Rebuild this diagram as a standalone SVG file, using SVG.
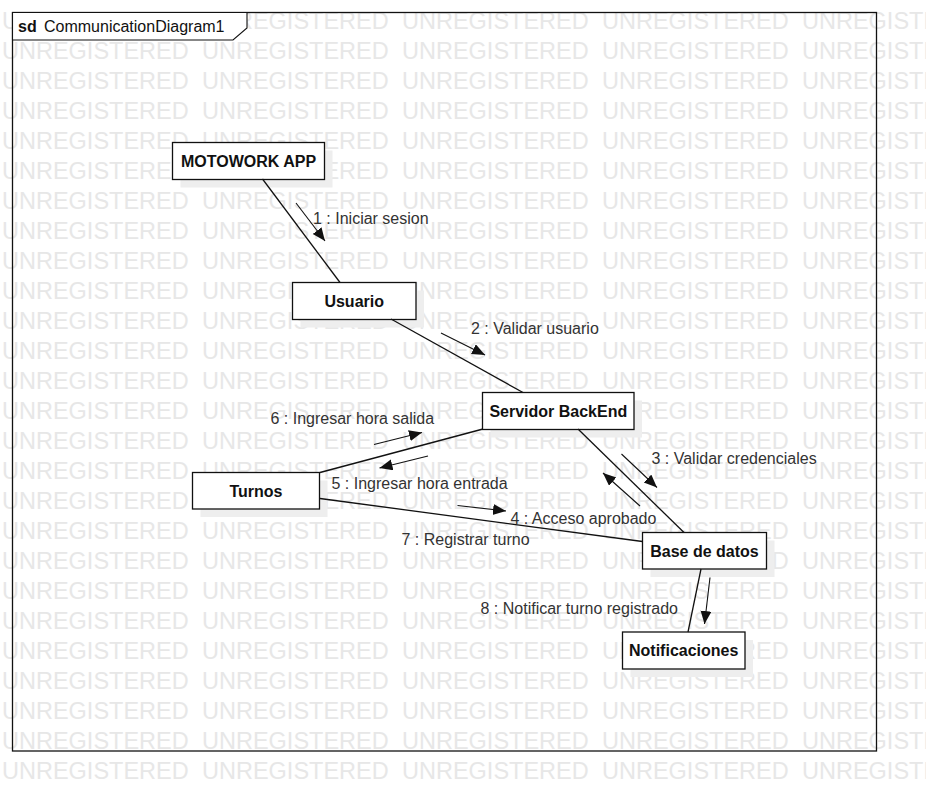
<svg xmlns="http://www.w3.org/2000/svg" xmlns:xlink="http://www.w3.org/1999/xlink" width="926" height="801" viewBox="0 0 926 801">
  <style>
    .wm { font-family: "Liberation Sans", Arial, sans-serif; font-size: 23.5px; fill: #e7e7e7; }
    .box { fill: #ffffff; stroke: #111111; stroke-width: 1.3; }
    .shadow { fill: #eeeeee; stroke: none; }
    .name { font-family: "Liberation Sans", Arial, sans-serif; font-size: 16px; font-weight: bold; fill: #111111; text-anchor: middle; }
    .msg { font-family: "Liberation Sans", Arial, sans-serif; font-size: 16px; fill: #333333; }
    .link { stroke: #111111; stroke-width: 1.3; fill: none; }
    .arrow { stroke: #111111; stroke-width: 1.1; fill: none; marker-end: url(#head); }
    .frame { fill: none; stroke: #111111; stroke-width: 1.3; }
    .tab { fill: #ffffff; stroke: #111111; stroke-width: 1.1; }
  </style>
  <defs>
    <marker id="head" markerUnits="userSpaceOnUse" markerWidth="14" markerHeight="12" refX="13" refY="5.5" orient="auto">
      <path d="M0,0 L13,5.5 L0,11 z" fill="#111111"/>
    </marker>
    <g id="wmrow">
      <text class="wm" y="0">
        <tspan x="2">UNREGISTERED</tspan>
        <tspan x="202">UNREGISTERED</tspan>
        <tspan x="402">UNREGISTERED</tspan>
        <tspan x="602">UNREGISTERED</tspan>
        <tspan x="802">UNREGISTERED</tspan>
      </text>
    </g>
  </defs>

  <rect x="0" y="0" width="926" height="801" fill="#ffffff"/>

  <!-- background stamp rows -->
  <g id="watermark">
    <use xlink:href="#wmrow" y="29"/>
    <use xlink:href="#wmrow" y="59"/>
    <use xlink:href="#wmrow" y="89"/>
    <use xlink:href="#wmrow" y="119"/>
    <use xlink:href="#wmrow" y="149"/>
    <use xlink:href="#wmrow" y="179"/>
    <use xlink:href="#wmrow" y="209"/>
    <use xlink:href="#wmrow" y="239"/>
    <use xlink:href="#wmrow" y="269"/>
    <use xlink:href="#wmrow" y="299"/>
    <use xlink:href="#wmrow" y="329"/>
    <use xlink:href="#wmrow" y="359"/>
    <use xlink:href="#wmrow" y="389"/>
    <use xlink:href="#wmrow" y="419"/>
    <use xlink:href="#wmrow" y="449"/>
    <use xlink:href="#wmrow" y="479"/>
    <use xlink:href="#wmrow" y="509"/>
    <use xlink:href="#wmrow" y="539"/>
    <use xlink:href="#wmrow" y="569"/>
    <use xlink:href="#wmrow" y="599"/>
    <use xlink:href="#wmrow" y="629"/>
    <use xlink:href="#wmrow" y="659"/>
    <use xlink:href="#wmrow" y="689"/>
    <use xlink:href="#wmrow" y="719"/>
    <use xlink:href="#wmrow" y="749"/>
    <use xlink:href="#wmrow" y="779"/>
  </g>

  <!-- interaction frame -->
  <g id="frame">
    <rect class="frame" x="12.5" y="12.5" width="864" height="738.5"/>
    <polygon class="tab" points="12.5,12.5 247,12.5 247,28 233,40 12.5,40"/>
    <text x="18" y="31.5" font-family="'Liberation Sans', Arial, sans-serif" font-size="16" fill="#111111"><tspan font-weight="bold">sd</tspan><tspan x="44">CommunicationDiagram1</tspan></text>
  </g>

  <!-- lifeline objects -->
  <g id="motowork-app">
    <rect class="shadow" x="180.5" y="150.5" width="152" height="37"/>
    <rect class="box" x="172.5" y="142.5" width="152" height="37"/>
    <text class="name" x="248.5" y="166.7">MOTOWORK APP</text>
  </g>
  <g id="usuario">
    <rect class="shadow" x="300.5" y="290.5" width="123.5" height="37"/>
    <rect class="box" x="292.5" y="282.5" width="123.5" height="37"/>
    <text class="name" x="354.2" y="306.7">Usuario</text>
  </g>
  <g id="servidor-backend">
    <rect class="shadow" x="490.5" y="400.5" width="151.5" height="37"/>
    <rect class="box" x="482.5" y="392.5" width="151.5" height="37"/>
    <text class="name" x="558.3" y="416.7">Servidor BackEnd</text>
  </g>
  <g id="turnos">
    <rect class="shadow" x="200.5" y="480.5" width="127" height="36.5"/>
    <rect class="box" x="192.5" y="472.5" width="127" height="36.5"/>
    <text class="name" x="256" y="496.5">Turnos</text>
  </g>
  <g id="base-de-datos">
    <rect class="shadow" x="650.5" y="540.5" width="124" height="36.5"/>
    <rect class="box" x="642.5" y="532.5" width="124" height="36.5"/>
    <text class="name" x="704.5" y="556.5">Base de datos</text>
  </g>
  <g id="notificaciones">
    <rect class="shadow" x="630.5" y="640" width="122.5" height="37"/>
    <rect class="box" x="622.5" y="632" width="122.5" height="37"/>
    <text class="name" x="683.7" y="656.2">Notificaciones</text>
  </g>

  <!-- links and messages -->
  <g id="connectors">
    <line class="link" x1="262.5" y1="179" x2="340" y2="282.5"/>
    <line class="link" x1="391" y1="319" x2="523" y2="392.5"/>
    <line class="link" x1="578" y1="429" x2="684" y2="532.5"/>
    <line class="link" x1="483" y1="429" x2="320" y2="472.5"/>
    <line class="link" x1="320" y1="498.5" x2="642.5" y2="541.5"/>
    <line class="link" x1="701" y1="569" x2="688" y2="632"/>

    <line class="arrow" x1="296" y1="203" x2="325" y2="241"/>
    <line class="arrow" x1="441" y1="333" x2="485" y2="355"/>
    <line class="arrow" x1="621.5" y1="454" x2="657" y2="487.5"/>
    <line class="arrow" x1="640" y1="506" x2="603" y2="473"/>
    <line class="arrow" x1="428" y1="456" x2="379.5" y2="468"/>
    <line class="arrow" x1="374" y1="444.5" x2="422" y2="432.5"/>
    <line class="arrow" x1="457.5" y1="505.5" x2="506" y2="511"/>
    <line class="arrow" x1="710" y1="577.5" x2="704.5" y2="624"/>

    <text class="msg" x="313" y="224">1 : Iniciar sesion</text>
    <text class="msg" x="471" y="333.5">2 : Validar usuario</text>
    <text class="msg" x="651.5" y="464">3 : Validar credenciales</text>
    <text class="msg" x="510.5" y="524">4 : Acceso aprobado</text>
    <text class="msg" x="331.5" y="488.5">5 : Ingresar hora entrada</text>
    <text class="msg" x="270.5" y="423.5">6 : Ingresar hora salida</text>
    <text class="msg" x="401.5" y="545">7 : Registrar turno</text>
    <text class="msg" x="480.5" y="613.5">8 : Notificar turno registrado</text>
  </g>
</svg>
